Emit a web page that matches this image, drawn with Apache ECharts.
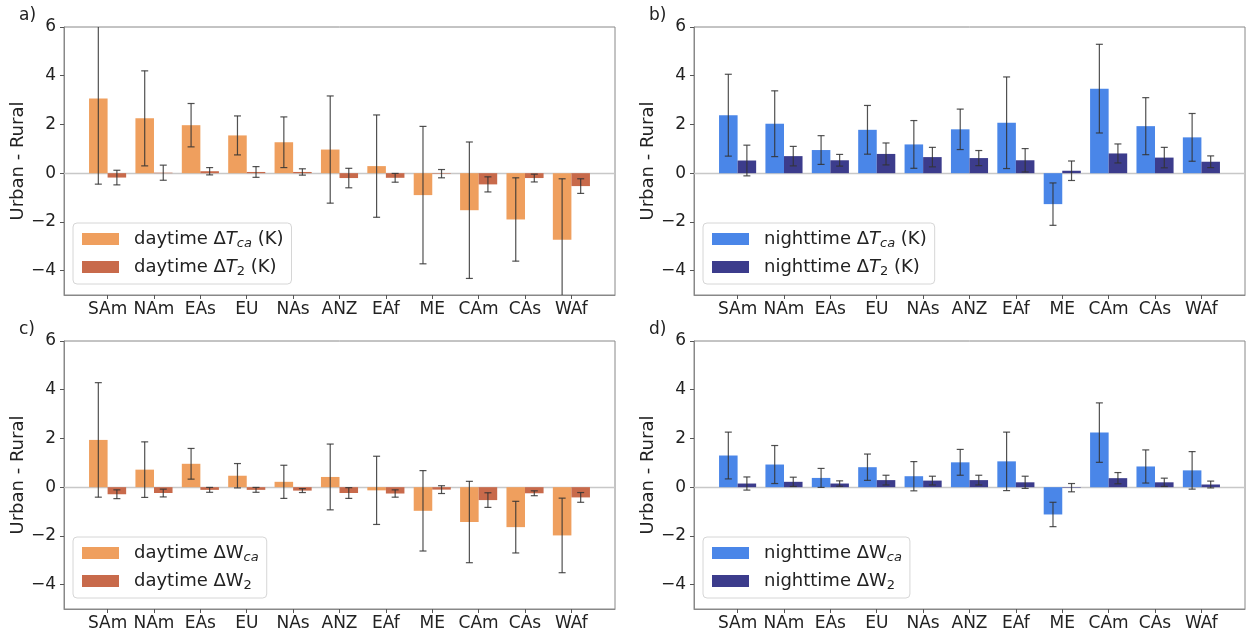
<!DOCTYPE html>
<html lang="en">
  <head>
    <meta charset="UTF-8" />
    <title>Urban - Rural</title>
    <style>
      html, body { margin: 0; padding: 0; background: #fff; }
      #chart { width: 1247px; height: 633px; }
    </style>
  </head>
  <body>
    <div id="chart"></div>
    <script src="https://cdn.jsdelivr.net/npm/echarts@6/dist/echarts.min.js"></script>
    <script>
      const regions = ["SAm", "NAm", "EAs", "EU", "NAs", "ANZ", "EAf", "ME", "CAm", "CAs", "WAf"];
      const yTicks = [-4, -2, 0, 2, 4, 6];

      // a) daytime temperature
      const dayTca = [3.07, 2.25, 1.97, 1.55, 1.27, 0.97, 0.29, -0.9, -1.52, -1.9, -2.73];
      const dayTcaErr = [3.52, 1.95, 0.89, 0.8, 1.04, 2.2, 2.1, 2.82, 2.8, 1.71, 2.5];
      const dayT2 = [-0.18, 0.02, 0.08, 0.05, 0.05, -0.2, -0.19, -0.02, -0.46, -0.2, -0.53];
      const dayT2Err = [0.3, 0.31, 0.15, 0.22, 0.13, 0.4, 0.18, 0.17, 0.31, 0.16, 0.3];

      // b) nighttime temperature
      const nightTca = [2.38, 2.03, 0.95, 1.78, 1.18, 1.8, 2.07, -1.27, 3.47, 1.93, 1.47];
      const nightTcaErr = [1.68, 1.35, 0.59, 1.0, 0.98, 0.83, 1.88, 0.87, 1.82, 1.17, 0.98];
      const nightT2 = [0.52, 0.7, 0.53, 0.79, 0.66, 0.62, 0.53, 0.1, 0.81, 0.64, 0.47];
      const nightT2Err = [0.63, 0.4, 0.24, 0.45, 0.4, 0.31, 0.48, 0.4, 0.39, 0.42, 0.24];

      // c) daytime humidity
      const dayWca = [1.94, 0.72, 0.96, 0.47, 0.22, 0.42, -0.13, -0.97, -1.43, -1.64, -1.98];
      const dayWcaErr = [2.35, 1.14, 0.63, 0.5, 0.68, 1.35, 1.4, 1.65, 1.67, 1.06, 1.53];
      const dayW2 = [-0.29, -0.24, -0.11, -0.11, -0.14, -0.24, -0.26, -0.1, -0.53, -0.25, -0.42];
      const dayW2Err = [0.18, 0.16, 0.1, 0.1, 0.08, 0.22, 0.15, 0.16, 0.3, 0.1, 0.2];

      // d) nighttime humidity
      const nightWca = [1.3, 0.93, 0.38, 0.82, 0.45, 1.02, 1.06, -1.12, 2.24, 0.85, 0.69];
      const nightWcaErr = [0.96, 0.78, 0.39, 0.54, 0.6, 0.53, 1.2, 0.5, 1.22, 0.68, 0.77];
      const nightW2 = [0.15, 0.22, 0.15, 0.29, 0.27, 0.29, 0.2, -0.02, 0.37, 0.2, 0.11];
      const nightW2Err = [0.27, 0.19, 0.11, 0.2, 0.18, 0.2, 0.25, 0.17, 0.23, 0.17, 0.14];

      const FONT = "DejaVu Sans";
      const YMIN = -5, YMAX = 6;
      const XMIN = -0.94, XMAX = 10.94;
      const orangeLight = "#EF9F5E", orangeDark = "#C86A4B";
      const blueLight = "#4A86E8", blueDark = "#3C3C8C";

      const panels = [
        { tag: "a)", left: 64, top: 27, legend: [73, 223],
          s: [["a1", dayTca, dayTcaErr, orangeLight], ["a2", dayT2, dayT2Err, orangeDark]] },
        { tag: "b)", left: 694, top: 27, legend: [703, 223],
          s: [["b1", nightTca, nightTcaErr, blueLight], ["b2", nightT2, nightT2Err, blueDark]] },
        { tag: "c)", left: 64, top: 341, legend: [73, 537],
          s: [["c1", dayWca, dayWcaErr, orangeLight], ["c2", dayW2, dayW2Err, orangeDark]] },
        { tag: "d)", left: 694, top: 341, legend: [703, 537],
          s: [["d1", nightWca, nightWcaErr, blueLight], ["d2", nightW2, nightW2Err, blueDark]] }
      ];

      const legendText = {
        a1: "{n|daytime Δ}{i|T}{si|ca}{n| (K)}",
        a2: "{n|daytime Δ}{i|T}{s|2}{n| (K)}",
        b1: "{n|nighttime Δ}{i|T}{si|ca}{n| (K)}",
        b2: "{n|nighttime Δ}{i|T}{s|2}{n| (K)}",
        c1: "{n|daytime ΔW}{si|ca}",
        c2: "{n|daytime ΔW}{s|2}",
        d1: "{n|nighttime ΔW}{si|ca}",
        d2: "{n|nighttime ΔW}{s|2}"
      };

      function barWithError(offset) {
        return function (params, api) {
          const x = api.value(0) + offset;
          const v = api.value(1);
          const e = api.value(2);
          const a = api.coord([x - 0.2, v]);
          const b = api.coord([x + 0.2, 0]);
          const children = [
            {
              type: "rect",
              shape: { x: a[0], y: Math.min(a[1], b[1]), width: b[0] - a[0], height: Math.abs(a[1] - b[1]) },
              style: { fill: api.visual("color") }
            }
          ];
          const hi = v + e, lo = v - e;
          const pTop = api.coord([x, Math.min(hi, YMAX)]);
          const pBot = api.coord([x, Math.max(lo, YMIN)]);
          const eStyle = { stroke: "#333", lineWidth: 1.2, opacity: 0.85 };
          children.push({ type: "line", shape: { x1: pTop[0], y1: pTop[1], x2: pBot[0], y2: pBot[1] }, style: eStyle });
          if (hi <= YMAX) {
            children.push({ type: "line", shape: { x1: pTop[0] - 3.5, y1: pTop[1], x2: pTop[0] + 3.5, y2: pTop[1] }, style: eStyle });
          }
          if (lo >= YMIN) {
            children.push({ type: "line", shape: { x1: pBot[0] - 3.5, y1: pBot[1], x2: pBot[0] + 3.5, y2: pBot[1] }, style: eStyle });
          }
          return { type: "group", children: children };
        };
      }

      const option = {
        backgroundColor: "#fff",
        animation: false,
        textStyle: { fontFamily: FONT },
        title: [],
        grid: [],
        xAxis: [],
        yAxis: [],
        legend: [],
        series: []
      };

      panels.forEach((p, k) => {
        option.title.push({
          text: p.tag,
          left: p.left - 45,
          top: p.top - 20,
          padding: 0,
          textStyle: { fontFamily: FONT, fontSize: 17, fontWeight: "normal", color: "#222" }
        });
        option.grid.push({
          left: p.left, top: p.top, width: 551, height: 268,
          show: true, borderColor: "#888", borderWidth: 1, backgroundColor: "transparent"
        });
        option.xAxis.push({
          type: "value", gridIndex: k, min: XMIN, max: XMAX,
          axisLine: { show: true, onZero: false, lineStyle: { color: "#888" } },
          axisTick: { show: true, customValues: regions.map((r, i) => i), length: 4, lineStyle: { color: "#555" } },
          axisLabel: {
            customValues: regions.map((r, i) => i),
            formatter: (v) => regions[Math.round(v)],
            fontFamily: FONT, fontSize: 17, color: "#222", margin: 6
          },
          splitLine: { show: false }
        });
        option.yAxis.push({
          type: "value", gridIndex: k, min: YMIN, max: YMAX,
          name: "Urban - Rural", nameLocation: "middle", nameGap: 37,
          nameTextStyle: { fontFamily: FONT, fontSize: 18, color: "#222" },
          axisLine: { show: true, onZero: false, lineStyle: { color: "#888" } },
          axisTick: { show: true, customValues: yTicks, length: 4, lineStyle: { color: "#555" } },
          axisLabel: {
            customValues: yTicks,
            formatter: (v) => (v < 0 ? "\u2212" + Math.abs(v) : String(v)),
            fontFamily: FONT, fontSize: 17, color: "#222", margin: 8
          },
          splitLine: { show: false }
        });
        option.legend.push({
          orient: "vertical",
          left: p.legend[0], top: p.legend[1],
          data: p.s.map((s) => s[0]),
          icon: "rect", itemWidth: 37, itemHeight: 12, itemGap: 7,
          padding: [6, 8, 6, 9],
          backgroundColor: "rgba(255,255,255,0.8)",
          borderColor: "#d6d6d6", borderWidth: 1, borderRadius: 4,
          selectedMode: false,
          formatter: (name) => legendText[name],
          textStyle: {
            padding: [0, 0, 0, 10],
            rich: {
              n: { fontFamily: FONT, fontSize: 18, color: "#222", lineHeight: 22 },
              i: { fontFamily: FONT, fontSize: 18, fontStyle: "italic", color: "#222", lineHeight: 22 },
              si: { fontFamily: FONT, fontSize: 13, fontStyle: "italic", color: "#222", lineHeight: 13, verticalAlign: "bottom", padding: [8, 0, 0, 0] },
              s: { fontFamily: FONT, fontSize: 13, color: "#222", lineHeight: 13, verticalAlign: "bottom", padding: [8, 0, 0, 0] }
            }
          }
        });
        p.s.forEach((s, j) => {
          const series = {
            name: s[0],
            type: "custom",
            xAxisIndex: k,
            yAxisIndex: k,
            itemStyle: { color: s[3] },
            encode: { x: 0, y: 1 },
            data: regions.map((r, i) => [i, s[1][i], s[2][i]]),
            renderItem: barWithError(j === 0 ? -0.2 : 0.2),
            z: 3
          };
          if (j === 0) {
            series.markLine = {
              silent: true, symbol: "none", z: 1,
              label: { show: false },
              lineStyle: { color: "#c8c8c8", type: "solid", width: 1.3 },
              data: [{ yAxis: 0 }]
            };
          }
          option.series.push(series);
        });
      });

      const chart = echarts.init(document.getElementById("chart"), null, { renderer: "canvas" });
      chart.setOption(option);
    </script>
  </body>
</html>
